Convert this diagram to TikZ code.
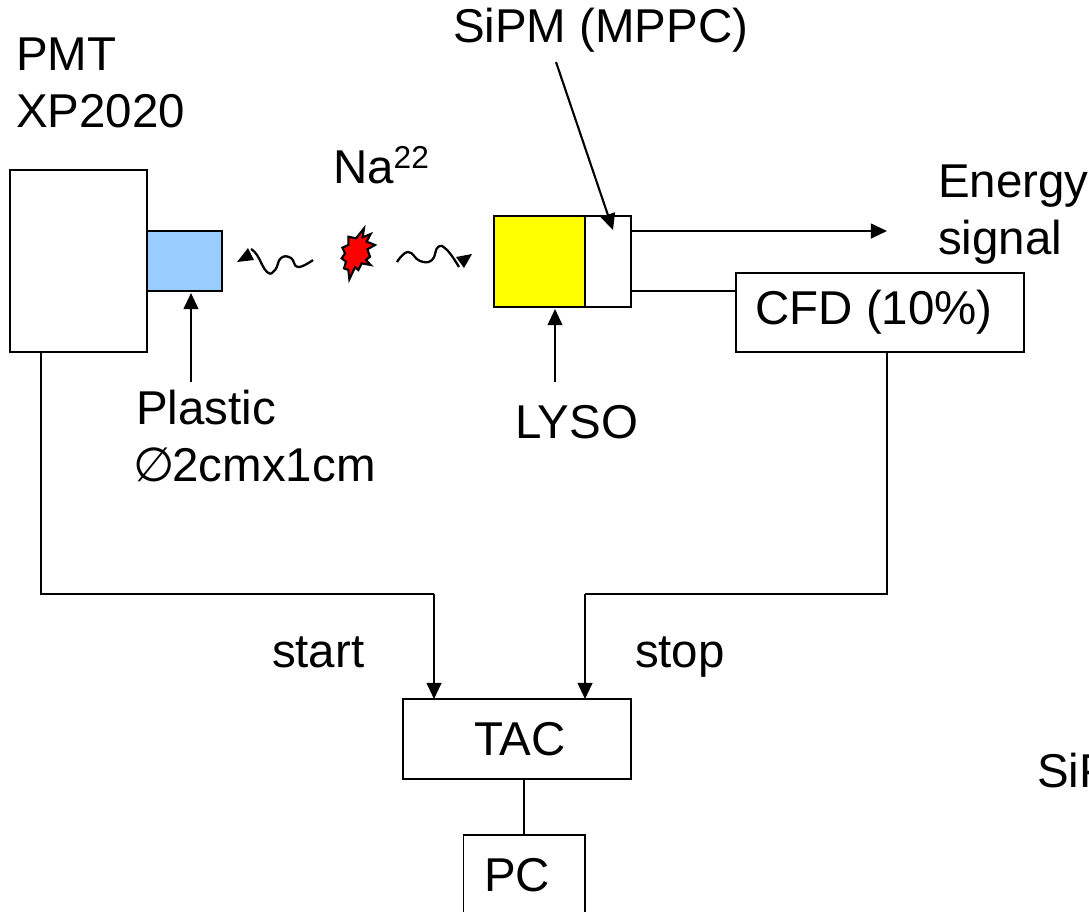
\documentclass[tikz,border=0pt]{standalone}
\usepackage{fontspec}
\setmainfont{Liberation Sans}
\newfontfamily\symfont{DejaVu Sans}
\usetikzlibrary{arrows.meta,positioning}
\definecolor{plasticblue}{RGB}{153,204,255}
\definecolor{lysoyellow}{RGB}{255,255,0}
\definecolor{burstred}{RGB}{255,0,0}
\tikzset{
  box/.style={draw, line width=0.55pt, inner sep=0pt, outer sep=0pt},
  boxtext/.style={box, font=\fontsize{13.5}{16.2}\selectfont},
  lbl/.style={inner sep=0pt, outer sep=0pt, anchor=base west, font=\fontsize{13.5}{16.2}\selectfont},
  sig/.style={line width=0.55pt},
  sigarrow/.style={line width=0.6pt, -{Triangle[length=4.6pt,width=4.2pt]}},
  photon/.style={line width=0.65pt},
}
\begin{document}
\begin{tikzpicture}[x=0.01cm, y=-0.01cm]
\useasboundingbox (0,0) rectangle (1089,911);
\clip (0,0) rectangle (1089,911);
\node[box, minimum width=1.37cm, minimum height=1.82cm] (PMT) at (78.5,261) {};
\node[box, fill=plasticblue, minimum width=0.75cm, minimum height=0.60cm] (Plastic) at (184.5,261) {};
\node[box, fill=lysoyellow, minimum width=0.91cm, minimum height=0.91cm] (LYSO) at (539.5,261.5) {};
\node[box, minimum width=0.46cm, minimum height=0.91cm] (SiPM) at (608,261.5) {};
\node[boxtext, minimum width=2.88cm, minimum height=0.79cm] (CFD) at (880,312.5) {\hspace*{-0.12cm}CFD (10\%)};
\node[boxtext, minimum width=2.28cm, minimum height=0.80cm] (TAC) at (517,739) {\hspace*{0.06cm}TAC};
\node[boxtext, minimum width=1.21cm, minimum height=0.80cm] (PC) at (524,875) {\hspace*{-0.14cm}PC};
%============
\node[lbl] (PMTlbl) at (16,70) {PMT};
\node[lbl] (XPlbl) at (16,127) {XP2020};
\node[lbl] (SiPMlbl) at (453,42) {SiPM (MPPC)};
\node[lbl] (Nalbl) at (333,183) {Na\raisebox{0.15cm}{\fontsize{9}{9}\selectfont 22}};
\node[lbl] (Energylbl) at (938,197) {Energy};
\node[lbl] (signallbl) at (938,254) {signal};
\node[lbl] (Plasticlbl) at (136,424) {Plastic};
\node[lbl] (Sizelbl) at (136,481) {\makebox[0.36cm][c]{\symfont\char"2205}\hspace{0.005cm}2cmx1cm};
\node[lbl] (LYSOlbl) at (515,438) {LYSO};
\node[lbl] (startlbl) at (272,667) {start};
\node[lbl] (stoplbl) at (635,667) {stop};
\node[lbl] (SiPMcut) at (1037,787) {SiPM};
%============
\coordinate (PMTout) at (41,352);
\coordinate (startbend) at (434,594);
\coordinate (TACstart) at (434,699);
\coordinate (CFDout) at (887,352);
\coordinate (stopbend) at (585,594);
\coordinate (TACstop) at (585,699);
\coordinate (SiPMe) at (631,231);
\coordinate (Energyend) at (887,231);
\coordinate (SiPMt) at (631,291);
\coordinate (CFDin) at (736,291);
\coordinate (SiPMfrom) at (556,62);
\coordinate (SiPMtip) at (613,230);
\coordinate (Plasticfrom) at (191,382);
\coordinate (Plastictip) at (191,293);
\coordinate (LYSOfrom) at (555,382);
\coordinate (LYSOtip) at (555,309);
\coordinate (TACout) at (524,779);
\coordinate (PCin) at (524,835);
%==========
\draw[sig] (PMTout) |- (startbend);
\draw[sigarrow] (startbend) -- (TACstart);
\draw[sig] (CFDout) |- (stopbend);
\draw[sigarrow] (stopbend) -- (TACstop);
\draw[sigarrow] (SiPMe) -- (Energyend);
\draw[sig] (SiPMt) -- (CFDin);
\draw[sigarrow] (SiPMfrom) -- (SiPMtip);
\draw[sigarrow] (Plasticfrom) -- (Plastictip);
\draw[sigarrow] (LYSOfrom) -- (LYSOtip);
\draw[sig] (TACout) -- (PCin);
%==========
\draw[photon] plot[smooth, tension=0.8] coordinates {(313,260) (298,267) (291,258) (281,258) (275,270) (267,272) (257,255) (251,249)};
\fill (248,248) -- (237,262) -- (254,260) -- cycle;
\draw[photon] plot[smooth, tension=0.8] coordinates {(397,262) (408,252) (420,261) (432,260) (438,247) (447,250) (459,267)};
\fill (456,257) -- (472,254) -- (464,268) -- cycle;
\draw[line width=0.6pt, fill=burstred, shift={(220,130)}, scale=1/3] (385,320) -- (408,325) -- (432,295) -- (428,322) -- (452,312) -- (440,335) -- (465,345) -- (442,358) -- (450,380) -- (438,390) -- (452,405) -- (425,400) -- (415,420) -- (405,412) -- (388,448) -- (385,420) -- (372,415) -- (378,395) -- (365,385) -- (375,370) -- (367,353) -- (385,345) -- cycle;
\end{tikzpicture}
\end{document}
